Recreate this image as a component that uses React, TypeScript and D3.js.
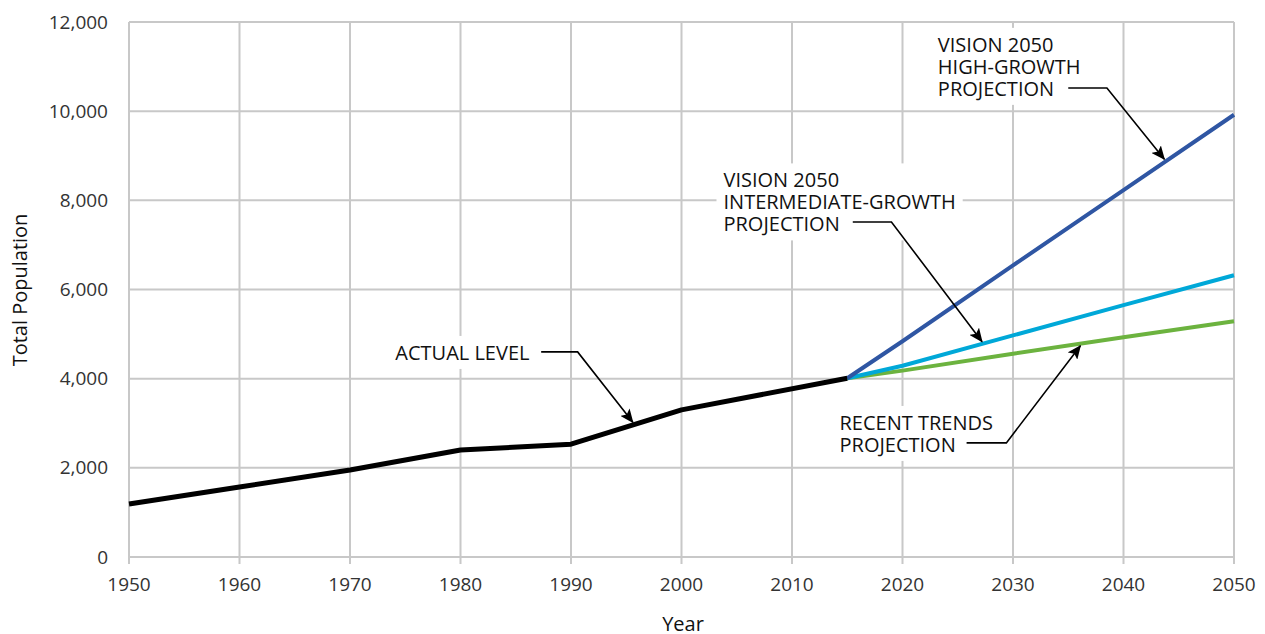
import React, { useEffect, useRef } from "react";
import * as d3 from "d3";

const yearTicks = [1950, 1960, 1970, 1980, 1990, 2000, 2010, 2020, 2030, 2040, 2050];
const valueTicks = [0, 2000, 4000, 6000, 8000, 10000, 12000];

const actualYears = [1950, 1960, 1970, 1980, 1990, 2000, 2015];
const actualValues = [1190, 1570, 1950, 2400, 2530, 3300, 4010];

const projYears = [2015, 2020, 2030, 2040, 2050];
const highValues = [4010, 4840, 6540, 8230, 9920];
const intermediateValues = [4010, 4290, 4970, 5650, 6320];
const recentValues = [4010, 4180, 4560, 4930, 5290];

const seriesNames = ["actual", "high", "intermediate", "recent"];
const seriesColors = ["#000000", "#2f56a3", "#00a8d8", "#6cb33f"];
const seriesWidths = [5, 4, 4, 4];

const annotationLines = [
  ["ACTUAL LEVEL"],
  ["VISION 2050", "INTERMEDIATE-GROWTH", "PROJECTION"],
  ["VISION 2050", "HIGH-GROWTH", "PROJECTION"],
  ["RECENT TRENDS", "PROJECTION"],
];
// text anchor (year, value), leader start/elbow (year), leader y (value), arrow tip (year, value)
const annTextYear = [1974.1, 2003.8, 2023.2, 2014.3];
const annTextValue = [4420, 8290, 11330, 2850];
const annLeadStart = [1987.3, 2015.5, 2035.0, 2025.8];
const annLeadElbow = [1990.6, 2019.0, 2038.5, 2029.4];
const annLeadValue = [4600, 7515, 10520, 2560];
const annTipYear = [1995.6, 2027.2, 2043.7, 2036.1];
const annTipValue = [3020, 4830, 8920, 4740];

export default function App() {
  const ref = useRef<SVGSVGElement>(null);
  useEffect(() => {
    const svg = d3.select(ref.current);
    svg.selectAll("*").remove();
    const x = d3.scaleLinear().domain([1950, 2050]).range([129, 1234]);
    const y = d3.scaleLinear().domain([0, 12000]).range([557, 22]);
    const grid = "#c8c8c8";
    const font = "'Open Sans', 'Noto Sans', sans-serif";

    const defs = svg.append("defs");
    defs
      .append("marker")
      .attr("id", "arr")
      .attr("viewBox", "0 0 14 12")
      .attr("refX", 13)
      .attr("refY", 6)
      .attr("markerWidth", 14)
      .attr("markerHeight", 12)
      .attr("markerUnits", "userSpaceOnUse")
      .attr("orient", "auto")
      .append("path")
      .attr("d", "M0,0 L14,6 L0,12 L3,6 Z")
      .attr("fill", "#000");

    const g = svg.append("g");
    // grid
    g.selectAll("line.h")
      .data(valueTicks)
      .join("line")
      .attr("x1", x(1950))
      .attr("x2", x(2050))
      .attr("y1", (d) => y(d))
      .attr("y2", (d) => y(d))
      .attr("stroke", grid)
      .attr("stroke-width", 2);
    g.selectAll("line.v")
      .data(yearTicks)
      .join("line")
      .attr("x1", (d) => x(d))
      .attr("x2", (d) => x(d))
      .attr("y1", y(12000))
      .attr("y2", y(0) + 7)
      .attr("stroke", grid)
      .attr("stroke-width", 2);

    // tick labels
    g.selectAll("text.yt")
      .data(valueTicks)
      .join("text")
      .attr("x", 108)
      .attr("y", (d) => y(d))
      .attr("dy", "0.35em")
      .attr("text-anchor", "end")
      .attr("font-family", font)
      .attr("font-size", 19)
      .attr("fill", "#333")
      .text((d) => d3.format(",")(d));
    g.selectAll("text.xt")
      .data(yearTicks)
      .join("text")
      .attr("x", (d) => x(d))
      .attr("y", 591)
      .attr("text-anchor", "middle")
      .attr("font-family", font)
      .attr("font-size", 19)
      .attr("fill", "#333")
      .text((d) => String(d));

    g.append("text")
      .attr("x", 683)
      .attr("y", 631)
      .attr("text-anchor", "middle")
      .attr("font-family", font)
      .attr("font-size", 20)
      .attr("fill", "#111")
      .text("Year");
    g.append("text")
      .attr("transform", `translate(27,${(213 + 367) / 2}) rotate(-90)`)
      .attr("text-anchor", "middle")
      .attr("font-family", font)
      .attr("font-size", 20)
      .attr("fill", "#111")
      .text("Total Population");

    // annotations text boxes (white background)
    annotationLines.forEach((lines, i) => {
      const tg = g.append("g");
      const t = tg
        .append("text")
        .attr("font-family", font)
        .attr("font-size", 20)
        .attr("fill", "#111");
      lines.forEach((ln, j) => {
        t.append("tspan")
          .attr("x", x(annTextYear[i]))
          .attr("y", y(annTextValue[i]) + j * 22)
          .text(ln);
      });
      const bb = (t.node() as SVGTextElement).getBBox();
      tg.insert("rect", "text")
        .attr("x", bb.x - 7)
        .attr("y", bb.y - 3)
        .attr("width", bb.width + 14)
        .attr("height", bb.height + 6)
        .attr("fill", "#fff");
    });

    // series
    const seriesData = [
      actualYears.map((d, i) => [d, actualValues[i]]),
      projYears.map((d, i) => [d, highValues[i]]),
      projYears.map((d, i) => [d, intermediateValues[i]]),
      projYears.map((d, i) => [d, recentValues[i]]),
    ];
    const line = d3
      .line<number[]>()
      .x((d) => x(d[0]))
      .y((d) => y(d[1]));
    [3, 2, 1, 0].forEach((i) => {
      g.append("path")
        .attr("class", seriesNames[i])
        .attr("d", line(seriesData[i] as any))
        .attr("fill", "none")
        .attr("stroke", seriesColors[i])
        .attr("stroke-width", seriesWidths[i])
        .attr("stroke-linejoin", "round");
    });

    // leaders
    annotationLines.forEach((_, i) => {
      const pts: [number, number][] = [
        [x(annLeadStart[i]), y(annLeadValue[i])],
        [x(annLeadElbow[i]), y(annLeadValue[i])],
        [x(annTipYear[i]), y(annTipValue[i])],
      ];
      g.append("path")
        .attr("d", d3.line()(pts))
        .attr("fill", "none")
        .attr("stroke", "#000")
        .attr("stroke-width", 1.6)
        .attr("marker-end", "url(#arr)");
    });
  }, []);
  return (
    <svg
      ref={ref}
      width={1265}
      height={634}
      style={{ position: "absolute", left: 0, top: 0, background: "#fff" }}
    />
  );
}
